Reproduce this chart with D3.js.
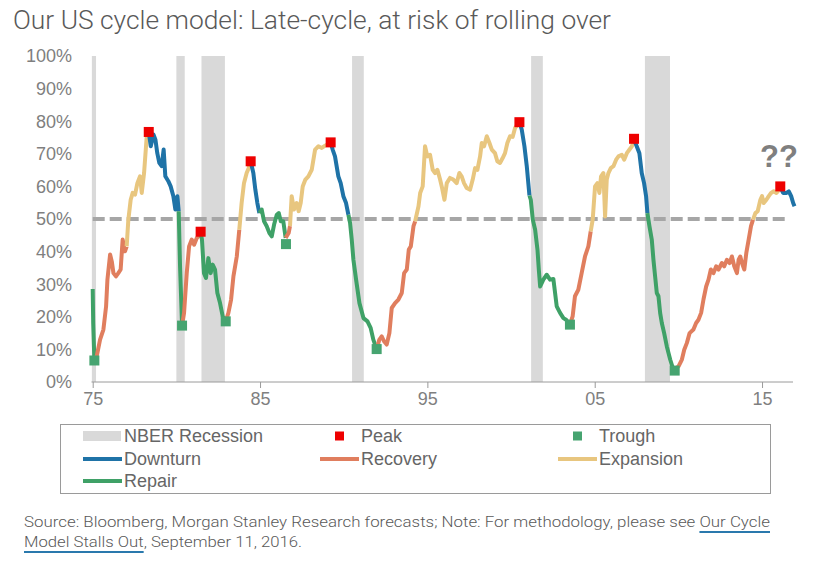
<!DOCTYPE html>
<html>
<head>
<meta charset="utf-8">
<script src="https://cdn.jsdelivr.net/npm/d3@7"></script>
<style>
  body { margin: 0; background: #ffffff; }
  text { font-family: "Liberation Sans", Arial, sans-serif; }
  text.title, text.source { font-family: Roboto, sans-serif; font-weight: 300; fill: #595959; }
  text.tick-label { font-size: 18px; fill: #7f7f7f; }
  text.legend-label { font-size: 18px; fill: #666666; }
</style>
</head>
<body>
<div id="chart"></div>
<script>
// cycle model score (decimal year, % value)
const cycle = [
  [1975.00,28.5],[1975.03,18.1],[1975.10,6.6],[1975.24,7.9],[1975.44,13.0],[1975.64,16.1],[1975.80,23.2],[1975.88,31.4],
  [1976.04,39.1],[1976.14,37.0],[1976.24,33.4],[1976.39,32.4],[1976.53,33.4],[1976.67,34.5],[1976.79,43.7],[1976.93,40.1],
  [1977.03,41.6],[1977.13,49.8],[1977.27,55.9],[1977.39,58.0],[1977.53,57.5],[1977.67,61.0],[1977.83,63.1],[1977.93,58.0],
  [1978.07,64.1],[1978.23,75.4],[1978.35,76.7],[1978.47,72.3],[1978.63,75.9],[1978.75,74.3],[1978.86,70.2],[1978.98,67.2],
  [1979.12,66.2],[1979.24,71.3],[1979.34,63.1],[1979.52,61.6],[1979.66,60.0],[1979.82,57.0],[1979.94,52.9],[1980.06,57.0],
  [1980.14,52.4],[1980.22,35.5],[1980.34,17.3],[1980.46,21.2],[1980.62,33.4],[1980.76,41.6],[1980.92,43.7],[1981.06,42.1],
  [1981.22,44.2],[1981.33,44.7],[1981.45,46.1],[1981.53,43.7],[1981.65,33.4],[1981.77,31.9],[1981.91,38.0],[1982.05,33.4],
  [1982.17,36.0],[1982.31,34.5],[1982.45,27.3],[1982.61,24.2],[1982.77,20.1],[1982.95,18.6],[1983.11,21.2],[1983.27,25.3],
  [1983.41,32.4],[1983.61,38.5],[1983.76,46.7],[1983.90,54.9],[1984.04,61.0],[1984.20,64.1],[1984.32,65.6],[1984.44,67.7],
  [1984.60,64.1],[1984.72,59.0],[1984.84,54.9],[1984.96,51.8],[1985.10,52.9],[1985.24,49.3],[1985.40,47.8],[1985.56,45.7],
  [1985.70,44.7],[1985.84,48.3],[1986.00,51.3],[1986.12,51.8],[1986.24,49.3],[1986.39,49.3],[1986.53,44.2],[1986.71,45.7],
  [1986.79,47.8],[1986.89,57.0],[1987.03,52.9],[1987.19,54.9],[1987.31,52.4],[1987.43,54.9],[1987.55,60.0],[1987.71,62.1],
  [1987.89,63.1],[1988.09,65.1],[1988.29,71.3],[1988.49,72.3],[1988.69,71.8],[1988.89,72.5],[1989.22,73.5],[1989.34,71.3],
  [1989.48,69.2],[1989.68,63.1],[1989.82,61.0],[1989.98,57.0],[1990.14,54.9],[1990.28,51.3],[1990.38,48.8],[1990.48,43.7],
  [1990.58,37.5],[1990.74,31.4],[1990.94,24.2],[1991.18,19.6],[1991.42,18.6],[1991.61,16.6],[1991.77,13.0],[1991.97,10.1],
  [1992.13,13.0],[1992.27,14.0],[1992.41,12.5],[1992.57,11.5],[1992.73,15.0],[1992.87,22.7],[1993.07,24.2],[1993.27,25.3],
  [1993.47,27.3],[1993.61,33.4],[1993.77,34.5],[1993.89,40.6],[1994.01,41.6],[1994.17,47.8],[1994.27,49.3],[1994.47,53.9],
  [1994.57,58.0],[1994.72,60.0],[1994.86,72.3],[1995.00,69.2],[1995.16,69.7],[1995.32,65.1],[1995.46,64.1],[1995.60,65.1],
  [1995.76,62.1],[1995.88,59.5],[1996.02,55.9],[1996.16,61.0],[1996.35,62.6],[1996.55,62.1],[1996.75,61.0],[1996.91,64.1],
  [1997.05,63.1],[1997.19,61.0],[1997.35,59.5],[1997.55,59.0],[1997.71,62.1],[1997.85,65.6],[1997.99,65.1],[1998.15,69.2],
  [1998.25,73.3],[1998.39,72.3],[1998.55,75.4],[1998.71,73.3],[1998.85,71.3],[1999.04,70.2],[1999.18,67.7],[1999.34,67.2],
  [1999.50,68.7],[1999.64,70.2],[1999.78,73.3],[1999.94,75.4],[2000.10,75.2],[2000.24,77.9],[2000.50,79.7],[2000.64,77.4],
  [2000.80,72.3],[2000.94,66.2],[2001.10,57.2],[2001.18,55.9],[2001.30,49.8],[2001.44,46.7],[2001.58,40.6],[2001.66,34.5],
  [2001.74,29.3],[2001.93,31.4],[2002.13,32.9],[2002.33,31.4],[2002.53,31.6],[2002.73,23.2],[2002.93,21.2],[2003.13,19.6],
  [2003.29,19.1],[2003.52,17.6],[2003.68,20.1],[2003.82,26.3],[2004.02,28.3],[2004.22,33.4],[2004.42,38.5],[2004.62,41.6],
  [2004.76,46.2],[2004.88,49.8],[2005.02,60.0],[2005.16,61.0],[2005.28,58.0],[2005.38,63.1],[2005.52,64.1],[2005.62,50.8],
  [2005.72,62.1],[2005.82,64.1],[2005.96,65.6],[2006.12,66.2],[2006.28,68.2],[2006.42,69.2],[2006.62,69.7],[2006.76,68.2],
  [2006.92,70.2],[2007.08,71.3],[2007.22,72.3],[2007.35,74.3],[2007.51,72.3],[2007.67,70.2],[2007.81,64.1],[2007.95,61.0],
  [2008.07,57.0],[2008.15,51.8],[2008.27,47.8],[2008.41,43.7],[2008.51,37.5],[2008.61,32.4],[2008.71,27.3],[2008.81,26.3],
  [2008.91,21.2],[2009.01,18.1],[2009.15,15.0],[2009.31,10.9],[2009.51,6.9],[2009.67,4.3],[2009.79,3.8],[2010.01,4.8],
  [2010.21,6.9],[2010.35,9.9],[2010.51,12.0],[2010.67,15.0],[2010.90,16.1],[2011.06,18.1],[2011.20,19.1],[2011.36,21.2],
  [2011.50,25.3],[2011.66,29.3],[2011.80,31.4],[2011.94,34.5],[2012.10,33.4],[2012.26,35.5],[2012.40,34.5],[2012.60,36.5],
  [2012.74,35.5],[2012.90,37.5],[2013.06,36.5],[2013.20,38.5],[2013.34,35.5],[2013.50,33.4],[2013.60,37.5],[2013.70,38.5],
  [2013.80,36.5],[2013.94,34.5],[2014.06,39.6],[2014.20,43.7],[2014.34,47.8],[2014.46,49.8],[2014.60,51.8],[2014.74,52.4],
  [2014.90,55.9],[2015.00,57.0],[2015.10,54.9],[2015.26,55.9],[2015.40,57.0],[2015.54,58.0],[2015.70,58.5],[2015.86,58.0],
  [2016.12,59.5],[2016.26,58.0],[2016.46,58.0],[2016.60,58.5],[2016.74,57.0],[2016.86,54.9],[2016.94,53.9]
];

// where each phase of the cycle starts
const phases = [
  [1975.00,"Repair"],[1975.10,"Recovery"],[1977.03,"Expansion"],[1978.35,"Downturn"],[1980.14,"Repair"],
  [1980.34,"Recovery"],[1981.45,"Repair"],[1982.95,"Recovery"],[1983.76,"Expansion"],[1984.44,"Downturn"],
  [1984.96,"Repair"],[1986.53,"Recovery"],[1986.79,"Expansion"],[1989.22,"Downturn"],[1990.28,"Repair"],
  [1991.97,"Recovery"],[1994.27,"Expansion"],[2000.50,"Downturn"],[2001.10,"Repair"],[2003.52,"Recovery"],
  [2004.76,"Expansion"],[2007.35,"Downturn"],[2008.15,"Repair"],[2009.79,"Recovery"],[2014.46,"Expansion"],
  [2016.12,"Downturn"]
];

const peaks = [[1978.35,76.7],[1981.45,46.1],[1984.44,67.7],[1989.22,73.5],[2000.50,79.7],[2007.35,74.6],[2016.09,60.0]];
const troughs = [[1975.10,6.6],[1980.34,17.3],[1982.95,18.6],[1986.55,42.3],[1991.97,10.1],[2003.52,17.6],[2009.78,3.5]];

// NBER recessions (start, end)
const recessions = [[1974.9,1975.2],[1980.0,1980.5],[1981.5,1982.9],[1990.5,1991.2],[2001.2,2001.9],[2008.0,2009.5]];

const xTicks = [1975, 1985, 1995, 2005, 2015];
const xTickLabels = ["75", "85", "95", "05", "15"];
const yTicks = [0, 10, 20, 30, 40, 50, 60, 70, 80, 90, 100];
const threshold = 50;

const legendLabels = ["NBER Recession", "Peak", "Trough", "Downturn", "Recovery", "Expansion", "Repair"];

const colors = {
  Downturn: "#1f73a7",
  Recovery: "#e07e5e",
  Expansion: "#e8c67f",
  Repair: "#3fa167",
  Peak: "#ee0000",
  Trough: "#46a470",
  "NBER Recession": "#d9d9d9"
};

const width = 834, height = 565;

const svg = d3.select("#chart")
  .append("svg")
  .attr("width", width)
  .attr("height", height);

const x = d3.scaleLinear().domain([1975, 2016.85]).range([92.7, 793]);
const y = d3.scaleLinear().domain([0, 100]).range([382, 56]);

// title
svg.append("text")
  .attr("class", "title")
  .attr("x", 13)
  .attr("y", 29)
  .attr("font-size", 25)
  .attr("textLength", 598)
  .attr("lengthAdjust", "spacingAndGlyphs")
  .text("Our US cycle model: Late-cycle, at risk of rolling over");

// recession bands
svg.selectAll("rect.recession")
  .data(recessions)
  .join("rect")
  .attr("class", "recession")
  .attr("x", d => x(Math.max(d[0], 1974.95)))
  .attr("width", d => x(d[1]) - x(Math.max(d[0], 1974.95)))
  .attr("y", y(100))
  .attr("height", y(0) - y(100))
  .attr("fill", colors["NBER Recession"]);

// y axis labels
svg.selectAll("text.y-label")
  .data(yTicks)
  .join("text")
  .attr("class", "tick-label y-label")
  .attr("x", 72)
  .attr("y", d => y(d))
  .attr("dy", "0.36em")
  .attr("text-anchor", "end")
  .text(d => d + "%");

// x axis
const xAxis = svg.append("g")
  .attr("transform", `translate(0, ${y(0)})`)
  .call(d3.axisBottom(x).tickValues(xTicks).tickSize(6).tickPadding(4)
    .tickFormat((d, i) => xTickLabels[i]));
xAxis.select(".domain").attr("d", `M${x(1974.93)},0H${x(2016.85)}`).attr("stroke", "#9a9a9a");
xAxis.selectAll(".tick line").attr("stroke", "#9a9a9a");
xAxis.selectAll(".tick text")
  .attr("class", "tick-label")
  .style("font-size", "18px")
  .attr("fill", "#7f7f7f")
  .attr("font-family", "Liberation Sans, Arial, sans-serif");

// 50% threshold
svg.append("line")
  .attr("x1", x(1975))
  .attr("x2", x(2016.45))
  .attr("y1", y(threshold))
  .attr("y2", y(threshold))
  .attr("stroke", "#a6a6a6")
  .attr("stroke-width", 4)
  .attr("stroke-dasharray", "12,5");

// split the series into coloured phase segments
const segments = phases.map((p, i) => {
  const end = i + 1 < phases.length ? phases[i + 1][0] : Infinity;
  return { phase: p[1], points: cycle.filter(d => d[0] >= p[0] && d[0] <= end) };
});

const line = d3.line()
  .x(d => x(d[0]))
  .y(d => y(d[1]));

svg.selectAll("path.phase")
  .data(segments)
  .join("path")
  .attr("class", "phase")
  .attr("fill", "none")
  .attr("stroke", d => colors[d.phase])
  .attr("stroke-width", 4)
  .attr("stroke-linejoin", "round")
  .attr("d", d => line(d.points));

// peak and trough markers
const marker = 10;
svg.selectAll("rect.trough")
  .data(troughs)
  .join("rect")
  .attr("class", "trough")
  .attr("x", d => x(d[0]) - marker / 2)
  .attr("y", d => y(d[1]) - marker / 2)
  .attr("width", marker)
  .attr("height", marker)
  .attr("fill", colors.Trough);

svg.selectAll("rect.peak")
  .data(peaks)
  .join("rect")
  .attr("class", "peak")
  .attr("x", d => x(d[0]) - marker / 2)
  .attr("y", d => y(d[1]) - marker / 2)
  .attr("width", marker)
  .attr("height", marker)
  .attr("fill", colors.Peak);

// question marks
svg.append("text")
  .attr("x", 779)
  .attr("y", 167)
  .attr("text-anchor", "middle")
  .attr("font-size", 31)
  .attr("font-weight", "bold")
  .attr("fill", "#7f7f7f")
  .text("??");

// legend
svg.append("rect")
  .attr("x", 60.5)
  .attr("y", 424.5)
  .attr("width", 710)
  .attr("height", 69)
  .attr("fill", "none")
  .attr("stroke", "#9a9a9a");

const legendCols = [83, 320, 558];
const legendRows = [436, 459, 481];

const legend = svg.selectAll("g.legend-item")
  .data(legendLabels)
  .join("g")
  .attr("class", "legend-item")
  .attr("transform", (d, i) => `translate(${legendCols[i % 3]}, ${legendRows[Math.floor(i / 3)]})`);

legend.each(function(d) {
  const g = d3.select(this);
  if (d === "NBER Recession") {
    g.append("rect").attr("x", 0).attr("y", -5).attr("width", 38).attr("height", 10).attr("fill", colors[d]);
  } else if (d === "Peak" || d === "Trough") {
    g.append("rect").attr("x", 15).attr("y", -4.5).attr("width", 9).attr("height", 9).attr("fill", colors[d]);
  } else {
    g.append("line").attr("x1", 0).attr("x2", 39).attr("y1", 0).attr("y2", 0)
      .attr("stroke", colors[d]).attr("stroke-width", 4);
  }
  g.append("text")
    .attr("class", "legend-label")
    .attr("x", 41)
    .attr("dy", "0.36em")
    .text(d);
});

// source note
const src1 = svg.append("text")
  .attr("class", "source")
  .attr("x", 24)
  .attr("y", 527)
  .attr("font-size", 15)
  .attr("textLength", 746)
  .attr("lengthAdjust", "spacingAndGlyphs")
  .text("Source: Bloomberg, Morgan Stanley Research forecasts; Note: For methodology, please see Our Cycle");

const src2 = svg.append("text")
  .attr("class", "source")
  .attr("x", 24)
  .attr("y", 547)
  .attr("font-size", 15)
  .attr("textLength", 278)
  .attr("lengthAdjust", "spacingAndGlyphs")
  .text("Model Stalls Out, September 11, 2016.");

// underline the report name
function underline(node, from, to, yPos) {
  const a = node.getStartPositionOfChar(from).x;
  const b = node.getEndPositionOfChar(to).x;
  svg.append("line")
    .attr("x1", a).attr("x2", b)
    .attr("y1", yPos).attr("y2", yPos)
    .attr("stroke", "#2a79ad")
    .attr("stroke-width", 2);
}
const t1 = src1.text();
underline(src1.node(), t1.indexOf("Our Cycle"), t1.length - 1, 532);
underline(src2.node(), 0, "Model Stalls Out".length - 1, 552);
</script>
</body>
</html>
